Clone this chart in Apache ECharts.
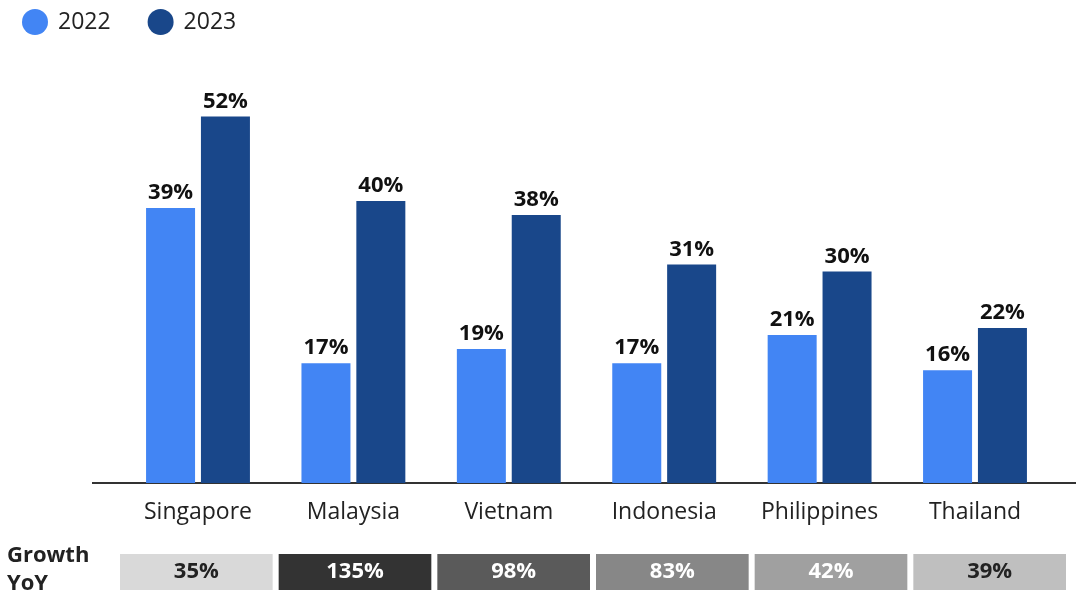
<!DOCTYPE html>
<html>
<head>
<meta charset="utf-8">
<script src="https://cdn.jsdelivr.net/npm/echarts@6/dist/echarts.min.js"></script>
<style>
  html, body { margin: 0; padding: 0; background: #ffffff; }
  #chart { width: 1076px; height: 590px; }
</style>
</head>
<body>
<div id="chart"></div>
<script>
// Share of respondents by market, two survey years
const countries = ['Singapore', 'Malaysia', 'Vietnam', 'Indonesia', 'Philippines', 'Thailand'];
const values2022 = [39, 17, 19, 17, 21, 16];
const values2023 = [52, 40, 38, 31, 30, 22];
// Year-over-year growth shown in the strip under the axis
const growthYoY = [35, 135, 98, 83, 42, 39];
const growthFill = ['#d9d9d9', '#333333', '#5a5a5a', '#878787', '#a0a0a0', '#bfbfbf'];
const growthText = ['#222222', '#ffffff', '#ffffff', '#ffffff', '#ffffff', '#222222'];

const FONT = 'Open Sans';
const chart = echarts.init(document.getElementById('chart'));

chart.setOption({
  animation: false,
  textStyle: { fontFamily: FONT },
  legend: {
    left: 17, top: 4,
    icon: 'circle',
    itemWidth: 26, itemHeight: 26,
    itemGap: 37,
    textStyle: { fontSize: 23, color: '#222222', padding: [0, 0, 0, 5], fontFamily: FONT },
    data: ['2022', '2023']
  },
  grid: [
    { left: 120.3, right: 23.3, top: 60, bottom: 107 },
    { left: 117, right: 7, top: 554, bottom: 0 }
  ],
  xAxis: [
    {
      type: 'category', gridIndex: 0, data: countries,
      axisLine: { show: false }, axisTick: { show: false },
      axisLabel: { fontSize: 23, color: '#222222', margin: 18, fontFamily: FONT }
    },
    {
      type: 'category', gridIndex: 1, data: countries,
      axisLine: { show: false }, axisTick: { show: false }, axisLabel: { show: false }
    }
  ],
  yAxis: [
    { type: 'value', gridIndex: 0, min: 0, max: 60, show: false },
    { type: 'value', gridIndex: 1, min: 0, max: 1, show: false }
  ],
  series: [
    {
      name: '2022', type: 'bar', xAxisIndex: 0, yAxisIndex: 0,
      data: values2022, barWidth: 49, barGap: '12%',
      itemStyle: { color: '#4285f4' },
      label: {
        show: true, position: 'top', distance: 4, formatter: '{c}%',
        fontSize: 22, fontWeight: 'bold', color: '#111111', fontFamily: FONT
      }
    },
    {
      name: '2023', type: 'bar', xAxisIndex: 0, yAxisIndex: 0,
      data: values2023, barWidth: 49, barGap: '12%',
      itemStyle: { color: '#19478a' },
      label: {
        show: true, position: 'top', distance: 4, formatter: '{c}%',
        fontSize: 22, fontWeight: 'bold', color: '#111111', fontFamily: FONT
      }
    },
    {
      name: 'growth', type: 'bar', xAxisIndex: 1, yAxisIndex: 1,
      barCategoryGap: 6,
      data: growthYoY.map((g, i) => ({
        value: 1, growth: g,
        itemStyle: { color: growthFill[i] },
        label: { color: growthText[i] }
      })),
      label: {
        show: true, position: 'inside',
        formatter: p => p.data.growth + '%',
        fontSize: 22, fontWeight: 'bold', fontFamily: FONT
      },
      silent: true
    }
  ],
  graphic: [
    {
      type: 'line', silent: true,
      shape: { x1: 92, y1: 483, x2: 1076, y2: 483 },
      style: { stroke: '#333333', lineWidth: 2 }
    },
    {
      type: 'text', left: 7, top: 542, silent: true,
      style: {
        text: 'Growth\nYoY', fontSize: 22, fontWeight: 'bold',
        fill: '#222222', lineHeight: 28, fontFamily: FONT
      }
    }
  ]
});
</script>
</body>
</html>
